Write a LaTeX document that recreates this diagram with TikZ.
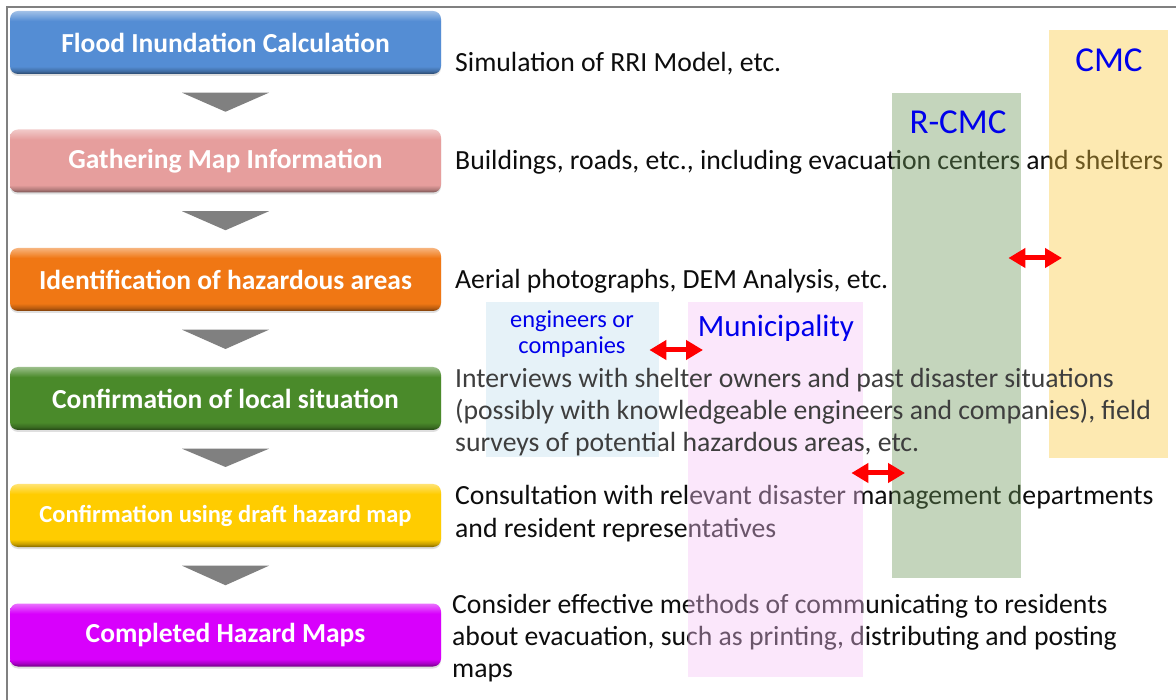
\documentclass[tikz,border=0pt]{standalone}
\usepackage{fontspec}
\setmainfont{Carlito}
\usetikzlibrary{arrows.meta,shadows,calc}
\definecolor{cA}{RGB}{84,141,212}
\definecolor{cB}{RGB}{230,158,157}
\definecolor{cC}{RGB}{240,119,20}
\definecolor{cD}{RGB}{74,138,42}
\definecolor{cE}{RGB}{255,204,0}
\definecolor{cF}{RGB}{216,0,252}
\definecolor{arrowgray}{RGB}{128,128,128}
\definecolor{framegray}{RGB}{128,128,128}
\definecolor{ovBlue}{RGB}{193,223,238}
\definecolor{ovPink}{RGB}{247,195,247}
\definecolor{ovGreen}{RGB}{108,152,88}
\definecolor{ovYellow}{RGB}{250,200,62}
\definecolor{lblblue}{RGB}{0,0,235}
\definecolor{txtdark}{RGB}{13,13,13}
\definecolor{txtgray}{RGB}{62,62,62}
\newcommand\mkshade[2]{\pgfdeclareverticalshading{#1}{100bp}{color(0bp)=(#2!50!black); color(25bp)=(#2!50!black); color(27.5bp)=(#2!78!black); color(31bp)=(#2); color(67bp)=(#2); color(72bp)=(#2!72!white); color(75bp)=(#2!55!white); color(100bp)=(#2!55!white)}}
\mkshade{shA}{cA}
\mkshade{shB}{cB}
\mkshade{shC}{cC}
\mkshade{shD}{cD}
\mkshade{shE}{cE}
\mkshade{shF}{cF}
\begin{document}
\begin{tikzpicture}[x=1pt,y=-1pt,
 stepbox/.style={rounded corners=8pt, minimum width=431pt, minimum height=63pt, inner sep=0pt, text=white, font=\bfseries\fontsize{27.5}{30}\selectfont, drop shadow={shadow xshift=0pt,shadow yshift=-2pt,opacity=0.25}},
 desc/.style={anchor=base west, inner sep=0pt, font=\fontsize{27.7}{32}\selectfont, text=txtdark},
 descg/.style={desc, text=txtgray},
 downtri/.style={fill=arrowgray},
 ovl/.style={anchor=north west, inner sep=0pt, fill opacity=0.4, draw=none},
 lbl/.style={text=lblblue, inner sep=0pt},
 dbl/.style={draw=red, line width=5pt, {Triangle[length=17pt,width=19pt]}-{Triangle[length=17pt,width=19pt]}}
]
\useasboundingbox (0,0) rectangle (1176,700);
\fill[white] (0,0) rectangle (1176,700);
% frame
\draw[framegray, line width=2pt] (6,7) -- (1176,7);
\draw[framegray, line width=2pt] (7,7) -- (7,700);

% step boxes
\node[stepbox, shading=shA] (b1) at (225.5,42.5) {Flood Inundation Calculation};
\node[stepbox, shading=shB] (b2) at (225.5,161) {Gathering Map Information};
\node[stepbox, shading=shC] (b3) at (225.5,279.5) {Identification of hazardous areas};
\node[stepbox, shading=shD] (b4) at (225.5,398.5) {Confirmation of local situation};
\node[stepbox, shading=shE, font=\bfseries\fontsize{24.5}{28}\selectfont] (b5) at (225.5,515.5) {Confirmation using draft hazard map};
\node[stepbox, shading=shF] (b6) at (225.5,635) {Completed Hazard Maps};

% down triangles
\foreach \u/\v in {b1/b2,b2/b3,b3/b4,b4/b5,b5/b6}{
  \fill[downtri] ($(\u.south)+(-43.5,18.5)$) -- ($(\u.south)+(43.5,18.5)$) -- ($(\u.south)!0.5!(\v.north)+(0,10)$) -- cycle;
}

% descriptions (under the overlays)
\node[desc] (d1) at (455,72) {Simulation of RRI Model, etc.};
\node[desc] (d2) at (455,170) {Buildings, roads, etc., including evacuation centers and shelters};
\node[desc] (d3) at (455,289) {Aerial photographs, DEM Analysis, etc.};
\node[desc] (d5a) at (455,504) {Consultation with relevant disaster management departments};
\node[desc] (d5b) at (455,537) {and resident representatives};
\node[desc] (d6a) at (452,613) {Consider effective methods of communicating to residents};
\node[desc] (d6b) at (452,645) {about evacuation, such as printing, distributing and posting};
\node[desc] (d6c) at (452,677) {maps};

% overlays
\node[ovl, fill=ovBlue, minimum width=173pt, minimum height=155pt] (eng) at (486,302) {};
\node[ovl, fill=ovPink, minimum width=175pt, minimum height=375pt] (mun) at (688,302) {};
\node[ovl, fill=ovGreen, minimum width=129pt, minimum height=485pt] (rcmc) at (892,93) {};
\node[ovl, fill=ovYellow, minimum width=119pt, minimum height=428pt] (cmc) at (1049,30) {};

% description drawn above the overlays
\node[descg] (d4a) at (455,388) {Interviews with shelter owners and past disaster situations};
\node[descg] (d4b) at (455,420) {(possibly with knowledgeable engineers and companies), field};
\node[descg] (d4c) at (455,452) {surveys of potential hazardous areas, etc.};

% labels
\node[lbl, font=\fontsize{35}{40}\selectfont] (lcmc) at (1109,60) {CMC};
\node[lbl, font=\fontsize{35}{40}\selectfont] (lrcmc) at (958,122) {R-CMC};
\node[lbl, font=\fontsize{31}{34}\selectfont] (lmun) at (776,328) {Municipality};
\node[lbl, font=\fontsize{24.4}{26}\selectfont, align=center] (leng) at (572,334) {engineers or\\companies};

% double arrows
\coordinate (a1l) at ($(eng.north east)+(-10,48)$);
\coordinate (a1r) at ($(mun.north west)+(15,48)$);
\coordinate (a2l) at ($(mun.north east)+(-12,171)$);
\coordinate (a2r) at ($(rcmc.north west)+(13,380)$);
\coordinate (a3l) at ($(rcmc.north east)+(-13,165)$);
\coordinate (a3r) at ($(cmc.north west)+(13,228)$);
\draw[dbl] (a1l) -- (a1r);
\draw[dbl] (a2l) -- (a2r);
\draw[dbl] (a3l) -- (a3r);
\end{tikzpicture}
\end{document}
